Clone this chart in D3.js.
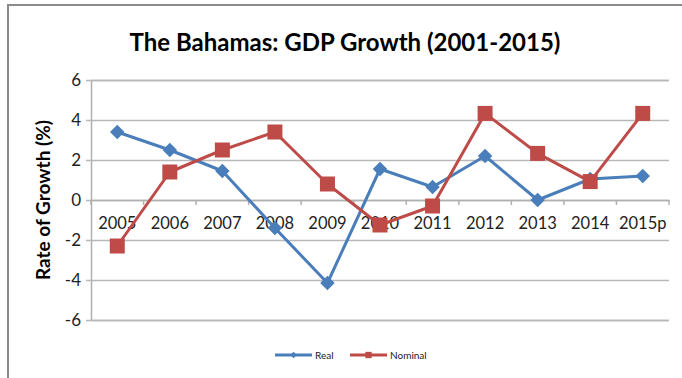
<!DOCTYPE html>
<html>
<head>
<meta charset="utf-8">
<script src="https://cdn.jsdelivr.net/npm/d3@7/dist/d3.min.js"></script>
<style>
  html, body { margin: 0; padding: 0; background: #fff; }
  svg { display: block; }
</style>
</head>
<body>
<svg id="chart" width="682" height="378"></svg>
<script>
// GDP growth rates (%) for The Bahamas
const years = ["2005","2006","2007","2008","2009","2010","2011","2012","2013","2014","2015p"];
const realGrowth    = [3.4, 2.5, 1.45, -1.4, -4.15, 1.55, 0.65, 2.2, 0.0, 1.05, 1.2];
const nominalGrowth = [-2.3, 1.4, 2.5, 3.4, 0.8, -1.25, -0.3, 4.33, 2.33, 0.92, 4.33];
const yTicks = [-6, -4, -2, 0, 2, 4, 6];
const seriesNames = ["Real", "Nominal"];

const svg = d3.select("#chart");
const font = "Lato, 'Open Sans', sans-serif";
const blue = "#4a7ebb", red = "#be4b48";
const margin = { left: 91, right: 13, top: 80, bottom: 58 };
const W = 682, H = 378;

// Outer frame
svg.append("path")
  .attr("d", `M8,${H} L8,5 L${W},5`)
  .attr("fill", "none").attr("stroke", "#8a8a8a").attr("stroke-width", 2);

const x = d3.scaleBand().domain(years).range([margin.left, W - margin.right]);
const y = d3.scaleLinear().domain([-6, 6]).range([H - margin.bottom, margin.top]);

// Title
svg.append("text")
  .attr("x", 345).attr("y", 51)
  .attr("text-anchor", "middle")
  .attr("font-family", font).attr("font-weight", "bold").attr("font-size", 24)
  .attr("fill", "#000")
  .text("The Bahamas: GDP Growth (2001-2015)");

// Horizontal gridlines + y axis
const yAxis = d3.axisLeft(y).tickValues(yTicks)
  .tickSize(-(W - margin.right - margin.left)).tickPadding(10)
  .tickFormat(d => String(d));
const gy = svg.append("g").attr("transform", `translate(${margin.left},0)`).call(yAxis);
gy.select(".domain").attr("stroke", "#b0b0b0").attr("stroke-width", 1.5);
gy.selectAll(".tick line").attr("stroke", "#b8b8b8").attr("stroke-width", 1.5).attr("x1", -5);
gy.selectAll(".tick text")
  .attr("font-family", font).attr("font-size", 17).attr("fill", "#222");

// Category axis along zero
const xAxis = d3.axisBottom(x).tickSize(0).tickPadding(17);
const gx = svg.append("g").attr("transform", `translate(0,${y(0)})`).call(xAxis);
gx.select(".domain").attr("stroke", "#b0b0b0").attr("stroke-width", 1.5);
gx.selectAll(".tick text")
  .attr("font-family", font).attr("font-size", 16.5).attr("fill", "#222");
// tick marks between categories
const bounds = years.map(d => x(d)).concat([x(years[years.length - 1]) + x.bandwidth()]);
gx.selectAll(".sep").data(bounds).enter().append("line")
  .attr("x1", d => d).attr("x2", d => d).attr("y1", 0).attr("y2", 5)
  .attr("stroke", "#b0b0b0").attr("stroke-width", 1.5);

// Y axis title
svg.append("text")
  .attr("transform", `translate(50,${y(0)}) rotate(-90)`)
  .attr("text-anchor", "middle")
  .attr("font-family", font).attr("font-weight", "bold").attr("font-size", 19)
  .attr("fill", "#000")
  .text("Rate of Growth (%)");

const cx = d => x(d) + x.bandwidth() / 2;
const line = d3.line().x((d, i) => cx(years[i])).y(d => y(d));

const square = d3.symbol().type(d3.symbolSquare);

function drawSeries(values, color, size, rot) {
  svg.append("path").datum(values)
    .attr("d", line).attr("fill", "none")
    .attr("stroke", color).attr("stroke-width", 3).attr("stroke-linejoin", "round");
  svg.append("g").selectAll("path").data(values).enter().append("path")
    .attr("d", square.size(size)())
    .attr("transform", (d, i) => `translate(${cx(years[i])},${y(d)}) rotate(${rot})`)
    .attr("fill", color);
}
drawSeries(realGrowth, blue, 105, 45);
drawSeries(nominalGrowth, red, 225, 0);

// Legend
const legendItems = [
  { name: seriesNames[0], color: blue, size: 22, rot: 45, x0: 275 },
  { name: seriesNames[1], color: red, size: 40, rot: 0, x0: 350 }
];
const lg = svg.append("g");
legendItems.forEach(it => {
  const ly = 355;
  lg.append("line").attr("x1", it.x0).attr("x2", it.x0 + 37).attr("y1", ly).attr("y2", ly)
    .attr("stroke", it.color).attr("stroke-width", 3);
  lg.append("path").attr("d", d3.symbol().type(d3.symbolSquare).size(it.size)())
    .attr("transform", `translate(${it.x0 + 18.5},${ly}) rotate(${it.rot})`).attr("fill", it.color);
  lg.append("text").attr("x", it.x0 + 40).attr("y", ly + 4)
    .attr("font-family", font).attr("font-size", 10).attr("fill", "#222")
    .text(it.name);
});
</script>
</body>
</html>
